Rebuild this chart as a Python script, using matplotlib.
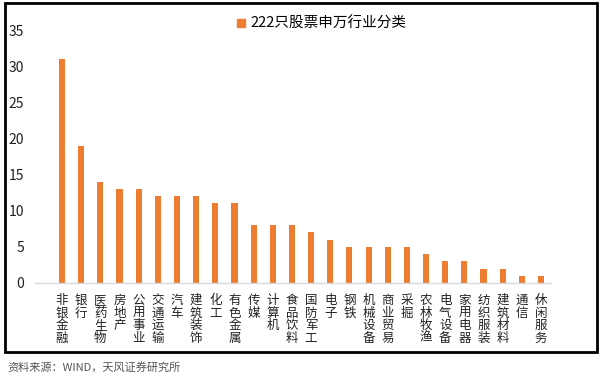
import matplotlib
matplotlib.use('Agg')
import matplotlib.pyplot as plt
from matplotlib.patches import Rectangle
from matplotlib.lines import Line2D

plt.rcParams['font.family'] = ['Noto Sans CJK SC', 'DejaVu Sans']

# 申万行业分类
industries = ['非银金融', '银行', '医药生物', '房地产', '公用事业', '交通运输', '汽车',
              '建筑装饰', '化工', '有色金属', '传媒', '计算机', '食品饮料', '国防军工',
              '电子', '钢铁', '机械设备', '商业贸易', '采掘', '农林牧渔', '电气设备',
              '家用电器', '纺织服装', '建筑材料', '通信', '休闲服务']
counts = [31, 19, 14, 13, 13, 12, 12, 12, 11, 11, 8, 8, 8, 7, 6, 5, 5, 5, 5, 4, 3, 3, 2, 2, 1, 1]
series_name = '222只股票申万行业分类'
y_ticks = [0, 5, 10, 15, 20, 25, 30, 35]
source_note = '资料来源：WIND，天风证券研究所'

bar_color = '#ED7D31'

fig = plt.figure(figsize=(6, 3.77), dpi=100)
ax = fig.add_axes([35 / 600, 1 - 283 / 377, 516 / 600, 253 / 377])

x = list(range(len(industries)))
ax.bar(x, counts, width=0.32, color=bar_color, zorder=2)

ax.set_xlim(-1.41, 25.52)
ax.set_ylim(0, 35)
ax.set_yticks(y_ticks)
ax.set_yticklabels([str(t) for t in y_ticks], fontsize=10, color='#222222')
ax.tick_params(axis='y', length=0, pad=8)

ax.set_xticks(x)
ax.set_xticklabels(['\n'.join(name) for name in industries], fontsize=9,
                   linespacing=0.95, va='top', color='#222222')
ax.tick_params(axis='x', length=0, pad=8)

for side in ['left', 'right', 'top']:
    ax.spines[side].set_visible(False)
ax.spines['bottom'].set_color('#D9D9D9')
ax.spines['bottom'].set_linewidth(1)

# legend at top
handle = Line2D([], [], marker='s', linestyle='none', markersize=6,
                markerfacecolor=bar_color, markeredgecolor=bar_color)
fig.legend([handle], [series_name], loc='center', bbox_to_anchor=(320 / 600, 1 - 24 / 377),
           frameon=False, fontsize=10.5, handletextpad=0.1, handlelength=1.0)

# outer frame
fig.patches.append(Rectangle((5 / 600, 1 - 352 / 377), 592 / 600, 349 / 377,
                             transform=fig.transFigure, fill=False,
                             edgecolor='black', linewidth=2))

fig.text(7 / 600, 1 - 367 / 377, source_note, fontsize=8, color='#555555',
         ha='left', va='center')

fig.savefig('out.png', dpi=100)
